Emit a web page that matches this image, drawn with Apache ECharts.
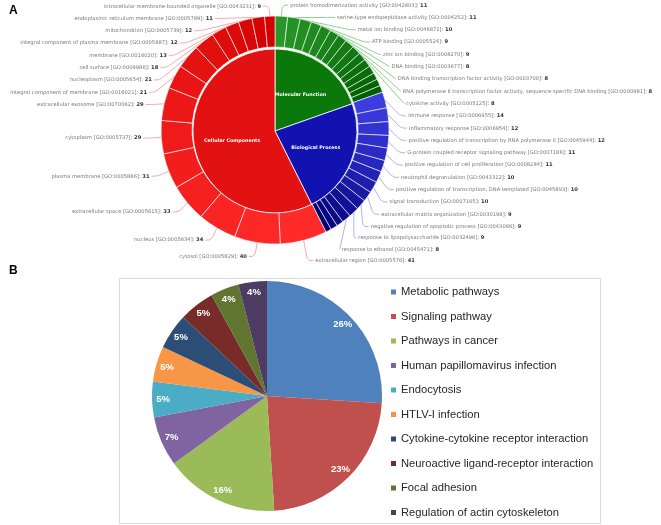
<!DOCTYPE html>
<html>
<head>
<meta charset="utf-8">
<script src="https://cdn.jsdelivr.net/npm/echarts@6/dist/echarts.min.js"></script>
<style>
html, body { margin: 0; padding: 0; background: #fff; }
#chart { width: 661px; height: 525px; }
</style>
</head>
<body>
<div id="chart"></div>
<script>
// ---- panel A: GO terms (clockwise from 12 o'clock: MF, BP, CC) ----
var goCategories = ['Molecular Function', 'Biological Process', 'Cellular Components'];

var mfTerms = ['protein homodimerization activity [GO:0042803]', 'serine-type endopeptidase activity [GO:0004252]',
    'metal ion binding [GO:0046872]', 'ATP binding [GO:0005524]', 'zinc ion binding [GO:0008270]',
    'DNA binding [GO:0003677]', 'DNA binding transcription factor activity [GO:0003700]',
    'RNA polymerase II transcription factor activity, sequence-specific DNA binding [GO:0000981]',
    'cytokine activity [GO:0005125]', '', '', '', '', '', ''];
var mfCounts = [11, 11, 10, 9, 9, 8, 8, 8, 8, 7, 7, 7, 6, 6, 6];

var bpTerms = ['immune response [GO:0006955]', 'inflammatory response [GO:0006954]',
    'positive regulation of transcription by RNA polymerase II [GO:0045944]',
    'G-protein coupled receptor signaling pathway [GO:0007186]',
    'positive regulation of cell proliferation [GO:0008284]', 'neutrophil degranulation [GO:0043312]',
    'positive regulation of transcription, DNA-templated [GO:0045893]', 'signal transduction [GO:0007165]',
    'extracellular matrix organization [GO:0030198]', 'negative regulation of apoptotic process [GO:0043066]',
    'response to lipopolysaccharide [GO:0032496]', 'response to ethanol [GO:0045471]', '', '', ''];
var bpCounts = [14, 12, 12, 11, 11, 10, 10, 10, 9, 9, 9, 8, 6, 6, 5];

var ccTerms = ['extracellular region [GO:0005576]', 'cytosol [GO:0005829]', 'nucleus [GO:0005634]',
    'extracellular space [GO:0005615]', 'plasma membrane [GO:0005886]', 'cytoplasm [GO:0005737]',
    'extracellular exosome [GO:0070062]', 'integral component of membrane [GO:0016021]',
    'nucleoplasm [GO:0005654]', 'cell surface [GO:0009986]', 'membrane [GO:0016020]',
    'integral component of plasma membrane [GO:0005887]', 'mitochondrion [GO:0005739]',
    'endoplasmic reticulum membrane [GO:0005789]', 'intracellular membrane-bounded organelle [GO:0043231]'];
var ccCounts = [41, 40, 34, 33, 31, 29, 29, 21, 21, 18, 13, 12, 12, 11, 9];

// ---- panel B: KEGG pathways (percent) ----
var pathNames = ['Metabolic pathways', 'Signaling pathway', 'Pathways in cancer', 'Human papillomavirus infection',
    'Endocytosis', 'HTLV-I infection', 'Cytokine-cytokine receptor interaction',
    'Neuroactive ligand-receptor interaction', 'Focal adhesion', 'Regulation of actin cytoskeleton'];
var pathPercents = [26, 23, 16, 7, 5, 5, 5, 5, 4, 4];
var pathColors = ['#4f81bd', '#c0504d', '#9bbb59', '#8064a2', '#4bacc6', '#f79646',
    '#2c4d75', '#772c2a', '#5f7530', '#4d3b62'];

function sum(arr) {
    var s = 0;
    for (var i = 0; i < arr.length; i++) s += arr[i];
    return s;
}

function mix(a, b, t) {
    var r = Math.round(a[0] + (b[0] - a[0]) * t);
    var g = Math.round(a[1] + (b[1] - a[1]) * t);
    var bl = Math.round(a[2] + (b[2] - a[2]) * t);
    return 'rgb(' + r + ',' + g + ',' + bl + ')';
}

var groups = [
    { terms: mfTerms, counts: mfCounts, inner: '#0b780b', from: [40, 150, 40], to: [0, 95, 0], line: '#5cb85c' },
    { terms: bpTerms, counts: bpCounts, inner: '#1212b0', from: [60, 60, 225], to: [0, 0, 120], line: '#8c8cec' },
    { terms: ccTerms, counts: ccCounts, inner: '#e31212', from: [255, 42, 42], to: [210, 0, 0], line: '#f48080' }
];

var innerData = [];
var outerData = [];
for (var g = 0; g < groups.length; g++) {
    var grp = groups[g];
    innerData.push({ name: goCategories[g], value: sum(grp.counts), itemStyle: { color: grp.inner } });
    for (var i = 0; i < grp.counts.length; i++) {
        var hasLabel = grp.terms[i] !== '';
        outerData.push({
            name: grp.terms[i],
            value: grp.counts[i],
            itemStyle: { color: mix(grp.from, grp.to, i / (grp.counts.length - 1)) },
            label: { show: hasLabel },
            labelLine: { show: hasLabel, lineStyle: { color: grp.line } }
        });
    }
}

var pathData = [];
for (var k = 0; k < pathNames.length; k++) {
    pathData.push({ name: pathNames[k], value: pathPercents[k], itemStyle: { color: pathColors[k] } });
}
var pathLabelData = [];
for (var k = 0; k < pathNames.length; k++) {
    pathLabelData.push({ name: pathNames[k], value: pathPercents[k] });
}

var myChart = echarts.init(document.getElementById('chart'));

var option = {
    animation: false,
    title: [
        { text: 'A', left: 9, top: 5, padding: 0, textStyle: { fontFamily: 'Liberation Sans', fontSize: 12, fontWeight: 'bold', color: '#000' } },
        { text: 'B', left: 9, top: 265, padding: 0, textStyle: { fontFamily: 'Liberation Sans', fontSize: 12, fontWeight: 'bold', color: '#000' } }
    ],
    graphic: [
        { type: 'rect', shape: { x: 119.5, y: 278.5, width: 481, height: 245 }, style: { fill: 'none', stroke: '#d9d9d9', lineWidth: 1 } }
    ],
    legend: {
        orient: 'vertical',
        left: 391,
        top: 285,
        padding: 0,
        itemWidth: 5,
        itemHeight: 5,
        itemGap: 10.5,
        icon: 'rect',
        selectedMode: false,
        data: pathNames,
        textStyle: { fontFamily: 'Liberation Sans', fontSize: 11.2, color: '#262626', lineHeight: 14 }
    },
    series: [
        {
            type: 'pie',
            name: 'GO inner',
            center: [275, 131],
            radius: [0, 82],
            silent: true,
            itemStyle: { borderColor: '#fff', borderWidth: 0.8 },
            label: {
                position: 'inside',
                color: '#fff',
                fontFamily: 'DejaVu Sans',
                fontWeight: 'bold',
                fontSize: 4.8
            },
            labelLine: { show: false },
            data: innerData
        },
        {
            type: 'pie',
            name: 'GO terms',
            left: 0,
            top: -1,
            width: 700,
            height: 268,
            center: [275, 131],
            radius: [83, 114],
            silent: true,
            itemStyle: { borderColor: 'rgba(255,255,255,0.85)', borderWidth: 0.7 },
            label: {
                position: 'outside',
                bleedMargin: 0,
                fontFamily: 'DejaVu Sans',
                fontSize: 5.2,
                lineHeight: 10.3,
                color: '#777',
                distanceToLabelLine: 2,
                formatter: function (p) {
                    return '{n|' + p.name + ': }{v|' + p.value + '}';
                },
                rich: {
                    n: { fontFamily: 'DejaVu Sans', fontSize: 5.2, color: '#777', lineHeight: 10.3 },
                    v: { fontFamily: 'DejaVu Sans', fontSize: 5.2, fontWeight: 'bold', color: '#333', lineHeight: 10.3 }
                }
            },
            labelLine: { length: 14, length2: 6, smooth: 0.4, lineStyle: { width: 0.7 } },
            data: outerData
        },
        {
            type: 'pie',
            name: 'KEGG',
            center: [267, 396],
            radius: [0, 115],
            silent: true,
            label: { show: false },
            labelLine: { show: false },
            data: pathData
        },
        {
            type: 'pie',
            name: 'KEGG labels',
            center: [267, 396],
            radius: [87, 115],
            silent: true,
            itemStyle: { color: 'rgba(0,0,0,0)' },
            label: {
                position: 'inside',
                formatter: '{c}%',
                color: '#fff',
                fontFamily: 'Liberation Sans',
                fontWeight: 'bold',
                fontSize: 9.5
            },
            labelLine: { show: false },
            data: pathLabelData
        }
    ]
};
option && myChart.setOption(option);
</script>
</body>
</html>
